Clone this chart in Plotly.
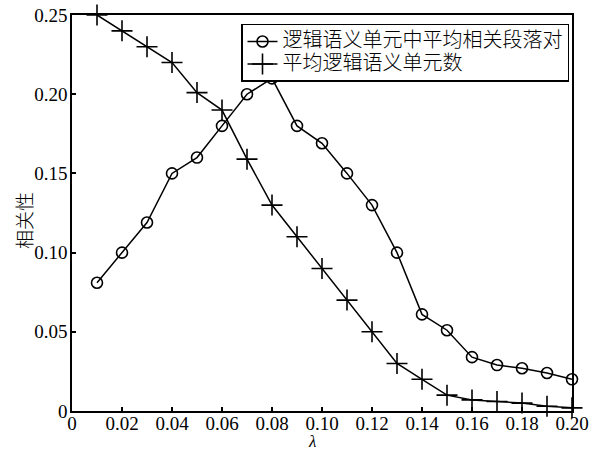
import plotly.graph_objects as go

# λ values shared by both curves
lam = [0.01, 0.02, 0.03, 0.04, 0.05, 0.06, 0.07, 0.08, 0.09, 0.10,
       0.11, 0.12, 0.13, 0.14, 0.15, 0.16, 0.17, 0.18, 0.19, 0.20]

# average relevant paragraph pairs within a logical-semantic unit
pairs_avg = [0.081, 0.100, 0.119, 0.150, 0.160, 0.180, 0.200, 0.210, 0.180, 0.169,
             0.150, 0.130, 0.100, 0.061, 0.051, 0.034, 0.029, 0.027, 0.024, 0.020]

# average number of logical-semantic units
units_avg = [0.250, 0.240, 0.230, 0.220, 0.201, 0.190, 0.159, 0.130, 0.110, 0.090,
             0.070, 0.050, 0.030, 0.020, 0.010, 0.007, 0.006, 0.005, 0.003, 0.002]

series_names = ["逻辑语义单元中平均相关段落对", "平均逻辑语义单元数"]

x_ticks = [0, 0.02, 0.04, 0.06, 0.08, 0.10, 0.12, 0.14, 0.16, 0.18, 0.20]
x_ticklabels = ["0", "0.02", "0.04", "0.06", "0.08", "0.10", "0.12", "0.14", "0.16", "0.18", "0.20"]
y_ticks = [0, 0.05, 0.10, 0.15, 0.20, 0.25]
y_ticklabels = ["0", "0.05", "0.10", "0.15", "0.20", "0.25"]

x_title = "<i>λ</i>"
y_title = "相关性"

SERIF = "Liberation Serif"
CJK = "Noto Sans CJK SC"


def legend_label(text):
    # larger glyphs than the legend's base size keep the rows tight
    return f'<span style="font-size:20px">{text}</span>'


fig = go.Figure()
fig.add_trace(go.Scatter(
    x=lam, y=pairs_avg, name=legend_label(series_names[0]), mode="lines+markers",
    line=dict(color="black", width=1.5),
    marker=dict(symbol="circle-open", size=11, color="black", line=dict(width=1.6)),
    cliponaxis=False,
))
fig.add_trace(go.Scatter(
    x=lam, y=units_avg, name=legend_label(series_names[1]), mode="lines+markers",
    line=dict(color="black", width=1.5),
    marker=dict(symbol="cross-thin-open", size=15, color="black", line=dict(width=1.6, color="black")),
    cliponaxis=False,
))

axis_common = dict(
    showgrid=False, zeroline=False, showline=True, linecolor="black", linewidth=1.5,
    mirror=True, ticks="inside", ticklen=4, tickwidth=1.5, tickcolor="black",
    tickfont=dict(family=SERIF, size=19, color="black"), automargin=False,
)

fig.update_layout(
    width=597, height=452,
    margin=dict(l=72, r=25, t=15, b=41),
    paper_bgcolor="white", plot_bgcolor="white",
    showlegend=True,
    legend=dict(
        x=0.338, y=0.978, xanchor="left", yanchor="top",
        bgcolor="white", bordercolor="black", borderwidth=1.5,
        font=dict(family=CJK, size=15, color="black", weight=300),
        tracegroupgap=0, itemwidth=30,
    ),
    xaxis=dict(
        range=[0, 0.20], tickvals=x_ticks, ticktext=x_ticklabels,
        ticklabelstandoff=-6,
        **axis_common,
    ),
    yaxis=dict(
        range=[0, 0.25], tickvals=y_ticks, ticktext=y_ticklabels,
        ticklabelstandoff=-1,
        **axis_common,
    ),
    annotations=[
        # axis titles placed as free text below / left of the tick labels
        dict(text=x_title, xref="paper", yref="paper", x=0.48, y=0,
             xanchor="center", yanchor="middle", yshift=-30, showarrow=False,
             font=dict(family=SERIF, size=17, color="black")),
        dict(text=y_title, xref="paper", yref="paper", x=0, y=0.48,
             xanchor="center", yanchor="middle", xshift=-48, textangle=-90,
             showarrow=False,
             font=dict(family=CJK, size=19, color="black", weight=300)),
    ],
)

fig.write_html("out.html")
